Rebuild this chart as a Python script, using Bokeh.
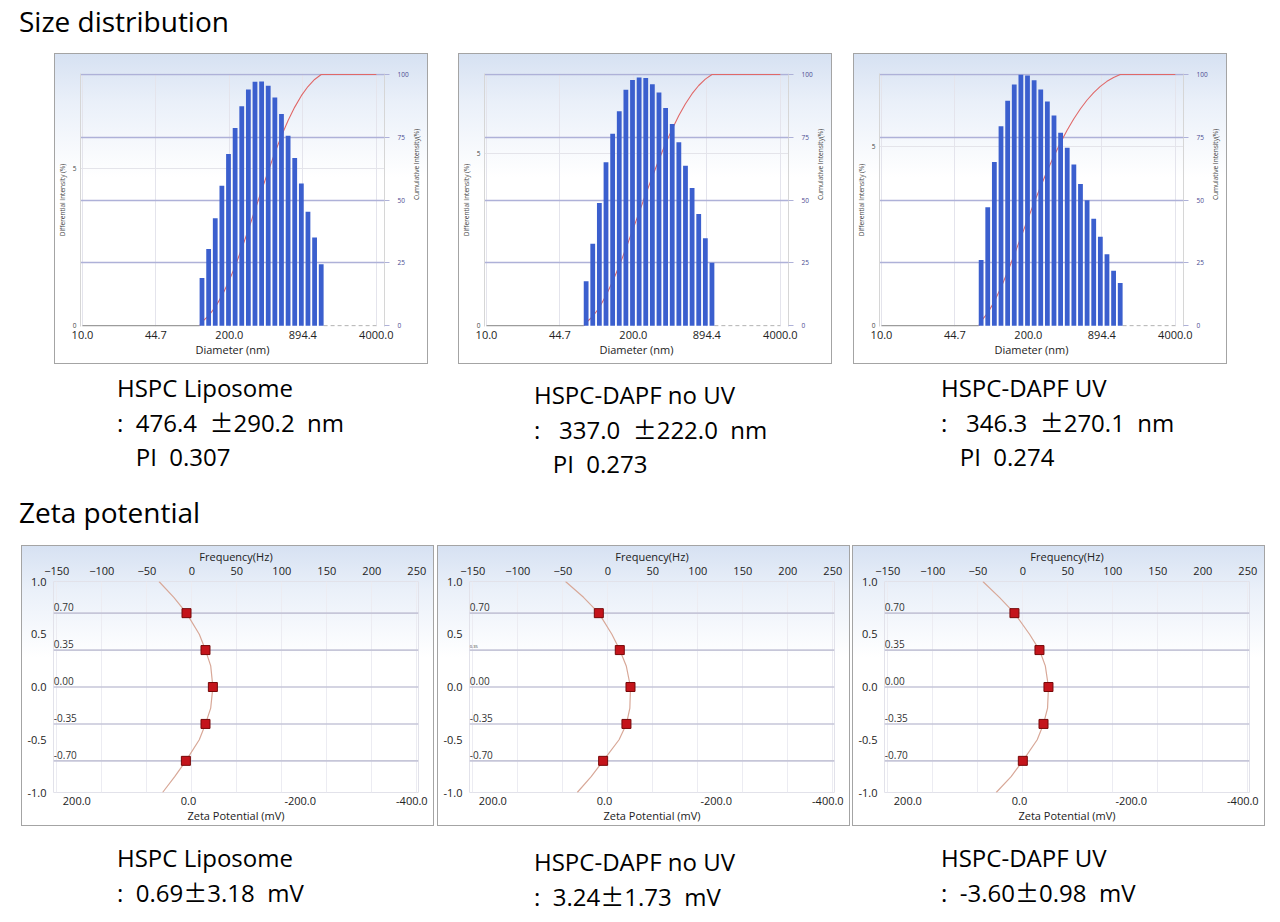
import math
import numpy as np
from bokeh.plotting import figure
from bokeh.models import (Range1d, LinearAxis, FixedTicker, PrintfTickFormatter, Grid,
                          Div, Spacer, Span, ColumnDataSource)
from bokeh.layouts import column, row
from bokeh.embed import file_html
from bokeh.resources import INLINE
from bokeh.core.properties import value

# ---------------- data ----------------
size_x_ticks = [10.0, 44.7, 200.0, 894.4, 4000.0]
size_left_ticks = [0, 5]
size_right_ticks = [0, 25, 50, 75, 100]

size_bins_1 = [114.4, 131.0, 149.9, 171.6, 196.4, 224.8, 257.3, 294.5, 337.1, 385.8,
               441.6, 505.5, 578.6, 662.3, 758.0, 867.6, 993.1, 1136.7, 1301.1]
size_diff_1 = [1.52, 2.44, 3.42, 4.46, 5.47, 6.30, 6.99, 7.52, 7.77, 7.78,
               7.64, 7.27, 6.74, 6.05, 5.34, 4.53, 3.63, 2.81, 1.96]

size_bins_2 = [76.3, 87.3, 99.9, 114.4, 131.0, 149.9, 171.6, 196.4, 224.8, 257.3,
               294.5, 337.1, 385.8, 441.6, 505.5, 578.6, 662.3, 758.0, 867.6, 993.1]
size_diff_2 = [1.29, 2.38, 3.57, 4.75, 5.58, 6.23, 6.86, 7.14, 7.21, 7.20,
               7.02, 6.78, 6.33, 5.86, 5.33, 4.65, 4.00, 3.25, 2.54, 1.83]

size_bins_3 = [76.3, 87.3, 99.9, 114.4, 131.0, 149.9, 171.6, 196.4, 224.8, 257.3, 294.5,
               337.1, 385.8, 441.6, 505.5, 578.6, 662.3, 758.0, 867.6, 993.1, 1136.7, 1301.1]
size_diff_3 = [1.83, 3.30, 4.56, 5.56, 6.27, 6.72, 6.99, 6.97, 6.84, 6.58, 6.25,
               5.86, 5.38, 4.96, 4.49, 3.95, 3.50, 2.98, 2.48, 1.99, 1.53, 1.19]

# differential value (%) that lines up with 100 % cumulative on each panel
size_diff_at_100 = [8.00, 7.30, 7.00]

size_titles = ["HSPC Liposome", "HSPC-DAPF no UV", "HSPC-DAPF UV"]
size_means = [(":  476.4  ", "290.2  nm"), (":   337.0  ", "222.0  nm"), (":   346.3  ", "270.1  nm")]
size_pi = ["   PI  0.307", "   PI  0.273", "   PI  0.274"]

freq_ticks = [-150, -100, -50, 0, 50, 100, 150, 200, 250]
zeta_ticks = [200, 0, -200, -400]
y_ticks = [-1.0, -0.5, 0.0, 0.5, 1.0]
zeta_levels = [0.70, 0.35, 0.00, -0.35, -0.70]
zeta_level_labels = ["0.70", "0.35", "0.00", "-0.35", "-0.70"]

zeta_freq_1 = [-5.9, 15.2, 23.4, 15.2, -6.6]
zeta_freq_2 = [-10.0, 13.3, 25.2, 20.7, -5.2]
zeta_freq_3 = [-9.3, 18.5, 28.5, 23.0, 0.0]

curve_y = [1.0, 0.85, 0.7, 0.5, 0.35, 0.2, 0.0, -0.2, -0.35, -0.5, -0.7, -0.85, -1.0]
curve_f_1 = [-36.5, -20.0, -5.9, 8.3, 15.2, 21.0, 23.4, 21.0, 15.2, 8.3, -6.6, -19.0, -32.5]
curve_f_2 = [-47.0, -27.0, -10.0, 4.5, 13.3, 20.5, 25.2, 24.5, 20.7, 12.5, -5.2, -18.5, -34.0]
curve_f_3 = [-44.4, -26.0, -9.3, 7.5, 18.5, 25.0, 28.5, 27.5, 23.0, 16.0, 0.0, -13.0, -29.6]

zeta_titles = ["HSPC Liposome", "HSPC-DAPF no UV", "HSPC-DAPF UV"]
zeta_values = [(":  0.69", "3.18  mV"), (":  3.24", "1.73  mV"), (":  -3.60", "0.98  mV")]

# ---------------- style ----------------
FONT = "Open Sans"
PM = "<span style=\"font-family:'Noto Sans CJK JP'\">\u00b1</span>"
PANEL_STYLE = {
    "background": "linear-gradient(180deg, #d6e1f2 0%, #eaf0f9 16%, #ffffff 40%, #ffffff 100%)",
    "box-shadow": "inset 0 0 0 1px #a4a4a4",
}


def tidy_axis(ax, size="11px", color="#222222"):
    ax.major_label_text_font = FONT
    ax.axis_label_text_font = FONT
    ax.major_label_text_font_size = size
    ax.axis_label_text_font_size = size
    ax.major_label_text_color = color
    ax.axis_label_text_color = color
    ax.axis_label_text_font_style = "normal"
    ax.minor_tick_line_color = None
    ax.major_tick_out = 0
    ax.major_tick_in = 0


def size_panel(bins, diff, diff_at_100):
    scale = 100.0 / diff_at_100
    cum_lo, cum_hi = -0.3, 100.4
    p = figure(width=374, height=311, x_axis_type="log",
               x_range=Range1d(9.6, 4730), y_range=Range1d(cum_lo / scale, cum_hi / scale),
               output_backend="svg", toolbar_location=None,
               min_border_left=25, min_border_right=30, min_border_top=20, min_border_bottom=38)
    p.extra_y_ranges = {"cum": Range1d(cum_lo, cum_hi)}
    p.border_fill_color = None
    p.background_fill_color = None
    p.outline_line_color = None
    p.styles = PANEL_STYLE

    # bottom axis
    xa = p.below[0]
    xa.ticker = FixedTicker(ticks=size_x_ticks)
    xa.formatter = PrintfTickFormatter(format="%.1f")
    xa.axis_label = "Diameter (nm)"
    tidy_axis(xa, "11px")
    xa.axis_line_color = None
    xa.major_label_standoff = 4
    xa.axis_label_standoff = 0
    p.xgrid.ticker = FixedTicker(ticks=size_x_ticks)
    p.xgrid.grid_line_color = "#e4e4ec"

    # left axis
    ya = p.left[0]
    ya.ticker = FixedTicker(ticks=size_left_ticks)
    ya.axis_label = "Differential Intensity (%)"
    tidy_axis(ya, "6.5px", "#444444")
    ya.axis_line_color = "#d6d6d6"
    ya.major_label_standoff = 4
    ya.axis_label_standoff = 3
    p.ygrid.ticker = FixedTicker(ticks=[size_left_ticks[1]])
    p.ygrid.grid_line_color = "#e4e4ea"

    # right axis (cumulative)
    ra = LinearAxis(y_range_name="cum", ticker=FixedTicker(ticks=size_right_ticks),
                    axis_label="Cumulative Intensity(%)")
    tidy_axis(ra, "6.5px", "#4a4a90")
    ra.axis_label_text_color = "#444444"
    ra.axis_label_orientation = math.pi / 2
    ra.axis_line_color = "#d6d6d6"
    ra.major_tick_out = 5
    ra.major_tick_line_color = "#aeb1d8"
    ra.major_label_standoff = 8
    ra.axis_label_standoff = 5
    p.add_layout(ra, "right")
    p.add_layout(Grid(dimension=1, ticker=FixedTicker(ticks=size_right_ticks[1:]),
                      y_range_name="cum", grid_line_color="#aeb1d8", grid_line_width=1.5))

    # bars (log-spaced bins, drawn as quads)
    half = 0.0212
    left = [b * 10 ** (-half) for b in bins]
    right = [b * 10 ** half for b in bins]

    # cumulative curve (behind bars)
    cum = np.cumsum(diff) / np.sum(diff) * 100.0
    cx = [left[0]] + list(bins) + [size_x_ticks[-1]]
    cy = [0.0] + list(cum) + [100.0]
    p.line(cx, cy, y_range_name="cum", line_color="#e06868", line_width=1.1)

    # zero baselines
    p.line([size_x_ticks[0], left[0]], [0, 0], line_color="#9c9c9c", line_width=1.5)
    p.line([right[-1], size_x_ticks[-1]], [0, 0], line_color="#a8a8a8", line_width=1.2,
           line_dash="4 3")

    p.quad(left=left, right=right, bottom=0, top=diff, fill_color="#3b5fce", line_color=None)
    return p


def zeta_panel(freqs, curve_f, label_sizes):
    p = figure(width=413, height=281, x_range=Range1d(-153.7, 251.9), y_range=Range1d(-1.0, 1.0),
               x_axis_location="above", output_backend="svg", toolbar_location=None,
               min_border_left=32, min_border_right=16, min_border_top=36, min_border_bottom=34)
    p.extra_x_ranges = {"zeta": Range1d(241.8, -411.9)}
    p.border_fill_color = None
    p.background_fill_color = None
    p.outline_line_color = "#e2e2ea"
    p.styles = PANEL_STYLE

    ta = p.above[0]
    ta.ticker = FixedTicker(ticks=freq_ticks)
    ta.axis_label = "Frequency(Hz)"
    tidy_axis(ta, "11px")
    ta.axis_line_color = None
    ta.major_label_standoff = 7
    ta.axis_label_standoff = 0
    p.xgrid.ticker = FixedTicker(ticks=freq_ticks)
    p.xgrid.grid_line_color = "#ececf2"
    p.ygrid.grid_line_color = None

    ya = p.left[0]
    ya.ticker = FixedTicker(ticks=y_ticks)
    ya.formatter = PrintfTickFormatter(format="%.1f")
    tidy_axis(ya, "11px")
    ya.axis_line_color = None
    ya.major_label_standoff = 7

    za = LinearAxis(x_range_name="zeta", ticker=FixedTicker(ticks=zeta_ticks),
                    formatter=PrintfTickFormatter(format="%.1f"), axis_label="Zeta Potential (mV)")
    tidy_axis(za, "11px")
    za.axis_line_color = None
    za.major_label_standoff = 4
    za.axis_label_standoff = 0
    p.add_layout(za, "below")

    for lv in zeta_levels:
        p.add_layout(Span(location=lv, dimension="width", line_color="#c6c6d8", line_width=1.6,
                          level="underlay"))

    src = ColumnDataSource(dict(x=[freq_ticks[0]] * len(zeta_levels), y=zeta_levels,
                                t=zeta_level_labels, fs=label_sizes))
    p.text(x="x", y="y", text="t", source=src, text_font=value(FONT), text_font_size="fs",
           text_color="#333333", text_baseline="bottom", text_align="left",
           x_offset=-3, y_offset=-2)

    p.line(curve_f, curve_y, line_color="#d8a898", line_width=1.2)
    p.scatter(freqs, zeta_levels, marker="square", size=9, fill_color="#c4141b",
              line_color="#760808", line_width=1)
    return p


def text_div(lines, width, height, size, pad_top, line_height=34):
    html = "<br>".join(lines)
    return Div(text=(f'<div style="font-family:\'{FONT}\';font-size:{size}px;line-height:{line_height}px;'
                     f'white-space:pre;color:#000;padding-top:{pad_top}px;margin:0">{html}</div>'),
               width=width, height=height, margin=0)


# ---------------- layout (page origin at top-left) ----------------
s1 = size_panel(size_bins_1, size_diff_1, size_diff_at_100[0])
s2 = size_panel(size_bins_2, size_diff_2, size_diff_at_100[1])
s3 = size_panel(size_bins_3, size_diff_3, size_diff_at_100[2])

z1 = zeta_panel(zeta_freq_1, curve_f_1, ["10px"] * 5)
z2 = zeta_panel(zeta_freq_2, curve_f_2, ["10px", "4px", "10px", "10px", "10px"])
z3 = zeta_panel(zeta_freq_3, curve_f_3, ["10px"] * 5)

size_caps = [[size_titles[i], size_means[i][0] + PM + size_means[i][1], size_pi[i]] for i in range(3)]
zeta_caps = [[zeta_titles[i], zeta_values[i][0] + PM + zeta_values[i][1]] for i in range(3)]

row_a = row(Spacer(width=19, height=53), text_div(["Size distribution"], 400, 53, 28, 8, 26))
row_b = row(Spacer(width=54, height=311), s1, Spacer(width=30, height=311), s2,
            Spacer(width=21, height=311), s3)
row_c = row(Spacer(width=117, height=124),
            text_div(size_caps[0], 417, 124, 24, 7),
            text_div(size_caps[1], 407, 124, 24, 14),
            text_div(size_caps[2], 300, 124, 24, 7))
row_d = row(Spacer(width=19, height=57), text_div(["Zeta potential"], 400, 57, 28, 7))
row_e = row(Spacer(width=21, height=281), z1, Spacer(width=3, height=281), z2,
            Spacer(width=2, height=281), z3)
row_f = row(Spacer(width=117, height=84),
            text_div(zeta_caps[0], 417, 84, 24, 15),
            text_div(zeta_caps[1], 407, 84, 24, 19),
            text_div(zeta_caps[2], 300, 84, 24, 15))

page = column(row_a, row_b, row_c, row_d, row_e, row_f)

with open("out.html", "w") as f:
    f.write(file_html(page, INLINE))
